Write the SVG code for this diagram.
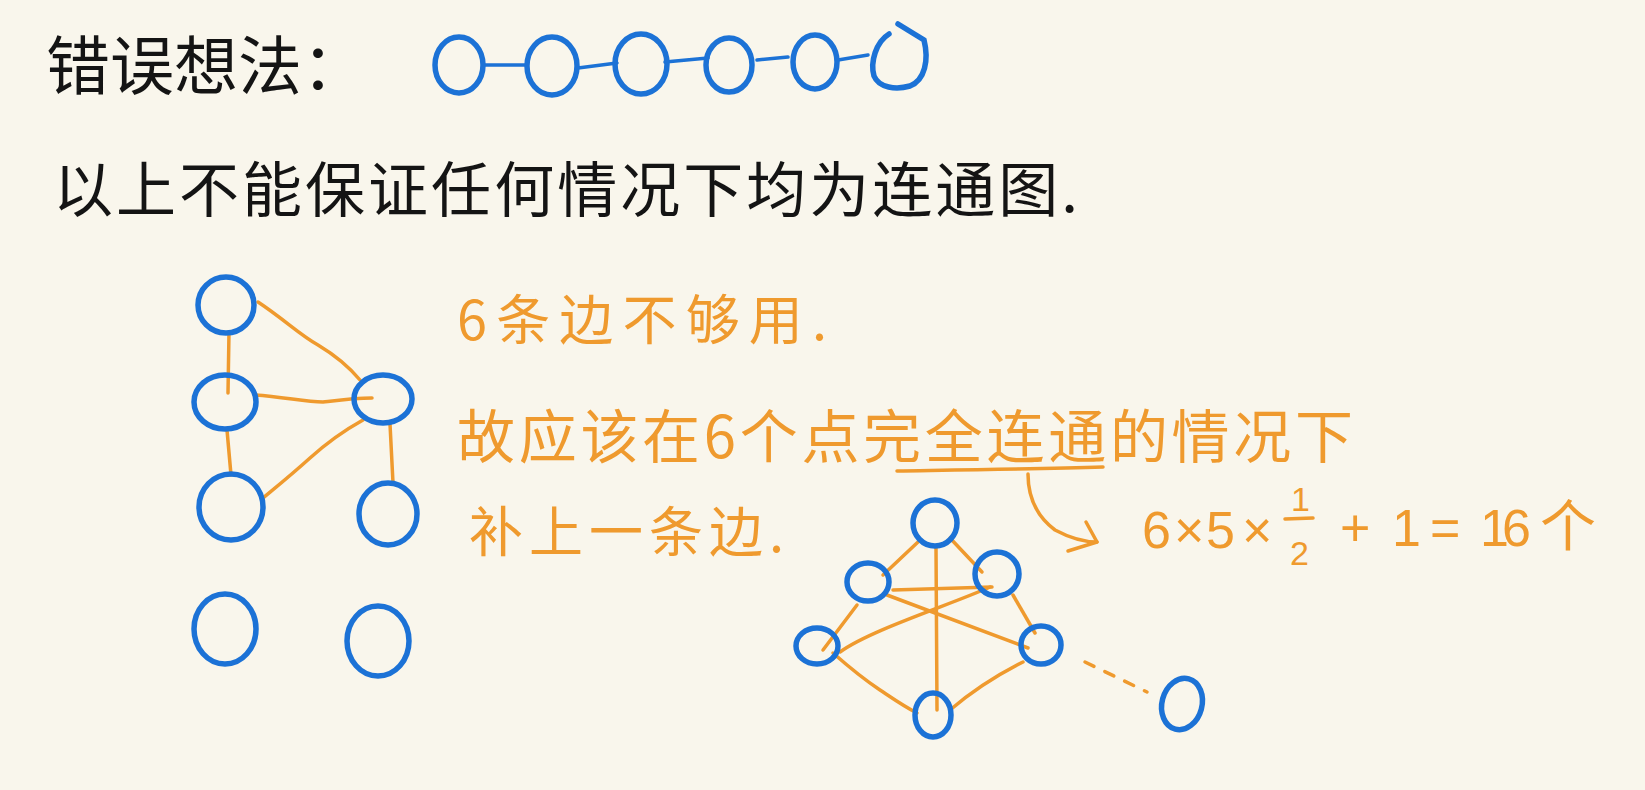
<svg xmlns="http://www.w3.org/2000/svg" width="1645" height="790" viewBox="0 0 1645 790">
<style>
.bg{fill:#F9F6EC}
.n{fill:none;stroke:#1C72D6;stroke-width:5.5;stroke-linecap:round}
.e{fill:none;stroke:#EF9A2E;stroke-width:3.5;stroke-linecap:round;stroke-linejoin:round}
.eb{fill:none;stroke:#1C72D6;stroke-width:3.5;stroke-linecap:round}
.tk{font-family:"Noto Sans CJK SC","Noto Sans",sans-serif;fill:#141414}
.to{font-family:"Noto Sans CJK SC","Noto Sans",sans-serif;fill:#EF9A2E}
.tn{font-family:"Liberation Sans",Arial,sans-serif;fill:#EF9A2E}
</style>
<rect class="bg" x="0" y="0" width="1645" height="790"/>

<g id="title-text">
<text class="tk" x="46" y="89" font-size="64">错误想法：</text>
<text class="tk" x="53" y="212" font-size="60" textLength="1025" lengthAdjust="spacing">以上不能保证任何情况下均为连通图.</text>
</g>

<g id="connectors">
<!-- top chain -->
<path class="eb" d="M483,65 L527,65"/>
<path class="eb" d="M578,68 L617,63"/>
<path class="eb" d="M665,62 L708,58"/>
<path class="eb" d="M757,60 L788,57"/>
<path class="eb" d="M838,60 L868,55"/>
<!-- left graph -->
<path class="e" d="M229,332 L228,393"/>
<path class="e" d="M258,302 C285,320 300,335 318,345 C338,357 350,368 360,380"/>
<path class="e" stroke-width="4.5" d="M255,395 C285,397 305,402 323,402 C340,400 355,398 372,398"/>
<path class="e" d="M227,430 L231,475"/>
<path class="e" d="M363,420 C345,430 330,440 310,458 C290,476 275,488 263,498"/>
<path class="e" d="M390,424 L393,483"/>
<!-- complete graph -->
<path class="e" d="M918,542 L883,575"/>
<path class="e" d="M950,538 L982,572"/>
<path class="e" d="M936,547 L937,710"/>
<path class="e" d="M893,590 L992,587"/>
<path class="e" d="M857,605 L823,650"/>
<path class="e" d="M887,595 L1028,648"/>
<path class="e" d="M990,587 C950,605 870,630 840,652"/>
<path class="e" d="M1013,595 L1035,633"/>
<path class="e" d="M833,653 C850,668 865,680 880,690 C895,700 905,707 917,713"/>
<path class="e" d="M1023,662 C995,676 970,693 950,710"/>
<path class="e" stroke-dasharray="10,12" d="M1085,662 L1147,692"/>
<!-- underline and arrow -->
<path class="e" d="M897,471 C960,470 1040,469 1103,467"/>
<path class="e" d="M1028,474 C1028,495 1035,515 1055,530 C1070,538 1085,542 1097,542"/>
<path class="e" d="M1086,522 L1097,542 L1068,551"/>
<!-- fraction bar -->
<path class="e" d="M1285,519 L1313,518"/>
</g>

<g id="top-chain">
<ellipse id="t1" class="n" cx="459" cy="65" rx="24" ry="28"/>
<ellipse id="t2" class="n" cx="552" cy="66" rx="25" ry="29"/>
<ellipse id="t3" class="n" cx="641" cy="64" rx="26" ry="30"/>
<ellipse id="t4" class="n" cx="729" cy="65" rx="23" ry="27"/>
<ellipse id="t5" class="n" cx="815" cy="62" rx="22" ry="27"/>
<path id="t6" class="n" d="M889,34 C876,42 870,62 874,76 C879,88 896,90 910,86 C925,80 929,60 924,40 L898,24"/>
</g>

<g id="left-graph">
<ellipse id="A" class="n" cx="226" cy="305" rx="28" ry="28"/>
<ellipse id="B" class="n" cx="225" cy="402" rx="31" ry="27"/>
<ellipse id="C" class="n" cx="231" cy="507" rx="32" ry="33"/>
<ellipse id="D" class="n" cx="383" cy="399" rx="29" ry="24"/>
<ellipse id="E" class="n" cx="388" cy="514" rx="29" ry="31"/>
<ellipse id="F" class="n" cx="225" cy="629" rx="31" ry="35"/>
<ellipse id="G" class="n" cx="378" cy="641" rx="31" ry="35"/>
</g>

<g id="complete-graph">
<ellipse id="N1" class="n" cx="935" cy="523" rx="22" ry="23"/>
<ellipse id="N2" class="n" cx="868" cy="582" rx="21" ry="19"/>
<ellipse id="N3" class="n" cx="997" cy="574" rx="22" ry="22"/>
<ellipse id="N4" class="n" cx="817" cy="646" rx="21" ry="18"/>
<ellipse id="N5" class="n" cx="1041" cy="645" rx="20" ry="19"/>
<ellipse id="N6" class="n" cx="933" cy="715" rx="18" ry="22"/>
<ellipse id="N7" class="n" cx="1182" cy="704" rx="20" ry="26" transform="rotate(15 1182 704)"/>
</g>

<g id="notes">
<text class="to" x="457" y="340" font-size="54" textLength="370" lengthAdjust="spacing">6条边不够用.</text>
<text class="to" x="457" y="458" font-size="58" textLength="896" lengthAdjust="spacing">故应该在6个点完全连通的情况下</text>
<text class="to" x="469" y="552" font-size="54" textLength="315" lengthAdjust="spacing">补上一条边.</text>
</g>

<g id="formula">
<text class="tn" x="1142 1174 1206 1242" y="548" font-size="52">6×5×</text>
<text class="tn" x="1291" y="511" font-size="34">1</text>
<text class="tn" x="1290" y="565" font-size="34">2</text>
<text class="tn" x="1340 1392 1430 1480 1502" y="546" font-size="52">+1=16</text>
<text class="to" x="1540" y="546" font-size="56">个</text>
</g>
</svg>
